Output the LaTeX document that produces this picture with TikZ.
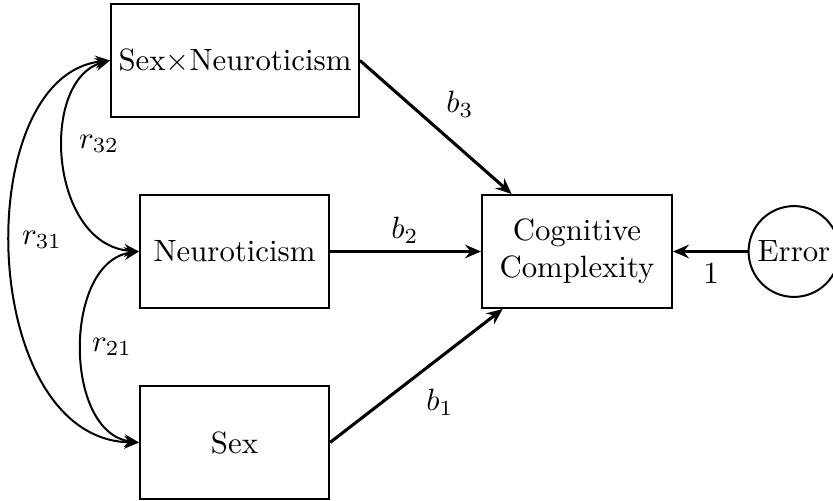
\documentclass[tikz,border=0pt]{standalone}
\usetikzlibrary{arrows.meta}
\begin{document}
\begin{tikzpicture}[x=0.3247pt,y=-0.3247pt,
  box/.style={draw,line width=0.65pt,rectangle,inner sep=0pt,minimum height=36.7pt,align=center},
  errc/.style={draw,line width=0.65pt,circle,inner sep=0pt,minimum size=29.5pt},
  tip/.style={Stealth[length=5.2pt,width=4.4pt,inset=1.8pt]},
  arr/.style={line width=1pt,-{Stealth[length=5.2pt,width=4.4pt,inset=1.8pt]}},
  corr/.style={line width=0.65pt,{Stealth[length=4.8pt,width=4.2pt,inset=1.7pt]}-{Stealth[length=4.8pt,width=4.2pt,inset=1.7pt]}},
  lab/.style={inner sep=0pt}]
\useasboundingbox (0,0) rectangle (833,501);
\node[box,minimum width=80.5pt] (sxn) at (235,60.5) {Sex$\times$Neuroticism};
\node[box,minimum width=61.4pt] (neu) at (234.5,251.5) {Neuroticism};
\node[box,minimum width=61.4pt] (sex) at (234.5,442.5) {Sex};
\node[box,minimum width=61.7pt] (cc) at (577,251.5) {Cognitive\\Complexity};
\node[errc] (err) at (794,251.5) {Error};
\draw[arr] (sxn.east) -- (cc);
\draw[arr] (neu) -- (cc);
\draw[arr] (sex.east) -- (cc);
\draw[arr] (err) -- (cc);
\draw[corr] (sxn.west) .. controls +(-71,19.5) and +(-90,-6.5) .. (neu.west);
\draw[corr] (neu.west) .. controls +(-76,10.5) and +(-76,-9.5) .. (sex.west);
\draw[corr] (sxn.west) .. controls +(-141,14.5) and +(-162,-2.5) .. (sex.west);
\node[lab] (lb3) at (460,104) {$b_3$};
\node[lab] (lb2) at (405,230) {$b_2$};
\node[lab] (lb1) at (440,402) {$b_1$};
\node[lab] (l1) at (711,273) {1};
\node[lab] (lr32) at (99,144) {$r_{32}$};
\node[lab] (lr31) at (42,240) {$r_{31}$};
\node[lab] (lr21) at (112,347) {$r_{21}$};
\end{tikzpicture}
\end{document}
